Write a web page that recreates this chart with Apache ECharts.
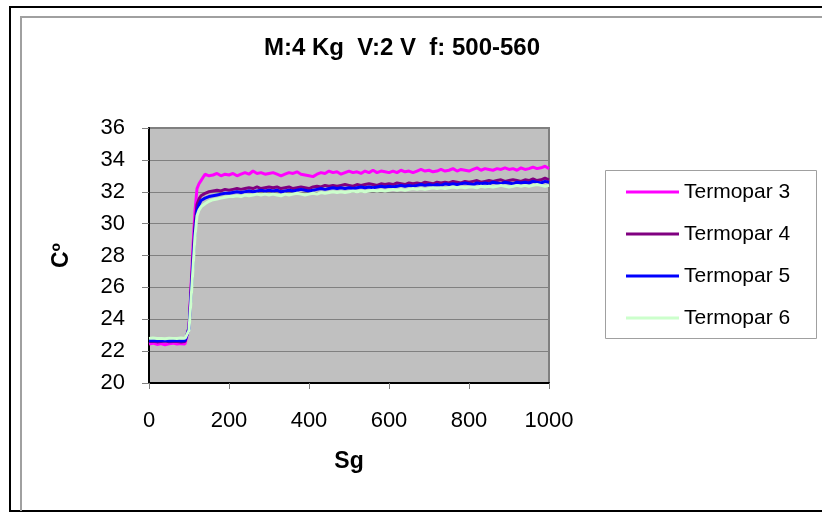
<!DOCTYPE html>
<html>
<head>
<meta charset="utf-8">
<script src="https://cdn.jsdelivr.net/npm/echarts@6/dist/echarts.min.js"></script>
<style>
  html, body { margin: 0; padding: 0; background: #ffffff; }
  #chart { width: 822px; height: 518px; }
</style>
</head>
<body>
<div id="chart"></div>
<script>
// Sample times in seconds (finer around the heating step)
const times = [
  0, 10, 20, 30, 40, 50, 60, 70, 80, 90,
  95, 100, 105, 110, 115, 120, 125, 130,
  140, 150, 160, 170, 180, 190, 200,
  210, 220, 230, 240, 250, 260, 270, 280, 290, 300,
  310, 320, 330, 340, 350, 360, 370, 380, 390, 400,
  410, 420, 430, 440, 450, 460, 470, 480, 490, 500,
  510, 520, 530, 540, 550, 560, 570, 580, 590, 600,
  610, 620, 630, 640, 650, 660, 670, 680, 690, 700,
  710, 720, 730, 740, 750, 760, 770, 780, 790, 800,
  810, 820, 830, 840, 850, 860, 870, 880, 890, 900,
  910, 920, 930, 940, 950, 960, 970, 980, 990, 1000
];

// Temperatures (°C) per thermocouple
const termopar3 = [
  22.45, 22.5, 22.42, 22.48, 22.4, 22.46, 22.5, 22.44, 22.47, 22.45,
  22.5, 23.5, 26.0, 28.6, 30.8, 32.2, 32.5, 32.7,
  33.1, 33.0, 33.05, 33.15, 33.0, 33.1, 33.05,
  33.15, 33.0, 33.1, 33.2, 33.1, 33.3, 33.15, 33.2, 33.1, 33.15,
  33.2, 33.1, 33.0, 33.1, 33.2, 33.15, 33.25, 33.1, 33.05, 33.0,
  32.95, 33.1, 33.2, 33.15, 33.3, 33.2, 33.25, 33.1, 33.2, 33.3,
  33.2, 33.25, 33.15, 33.3, 33.2, 33.35, 33.2, 33.3, 33.25, 33.2,
  33.3, 33.2, 33.35, 33.25, 33.3, 33.2, 33.3, 33.4, 33.3, 33.35,
  33.25, 33.3, 33.4, 33.3, 33.35, 33.45, 33.3, 33.4, 33.35, 33.3,
  33.4, 33.5, 33.35, 33.45, 33.4, 33.35, 33.45, 33.4, 33.5, 33.4,
  33.45, 33.35, 33.5, 33.4, 33.45, 33.55, 33.45, 33.5, 33.6, 33.45
];
const termopar4 = [
  22.6, 22.62, 22.58, 22.6, 22.63, 22.59, 22.61, 22.6, 22.58, 22.6,
  22.6, 23.5, 25.8, 28.0, 30.0, 31.2, 31.55, 31.75,
  31.9, 32.0, 32.05, 32.1, 32.05, 32.15, 32.1,
  32.15, 32.2, 32.15, 32.2, 32.25, 32.2, 32.3, 32.2, 32.25, 32.3,
  32.25, 32.3, 32.2, 32.25, 32.3, 32.2, 32.25, 32.3, 32.25, 32.2,
  32.3, 32.35, 32.3, 32.4, 32.35, 32.4, 32.35, 32.4, 32.45, 32.4,
  32.35, 32.45, 32.4, 32.45, 32.5, 32.45, 32.4, 32.5, 32.45, 32.5,
  32.45, 32.55, 32.5, 32.45, 32.55, 32.5, 32.55, 32.5, 32.6, 32.55,
  32.5, 32.6, 32.55, 32.6, 32.55, 32.65, 32.6, 32.55, 32.65, 32.6,
  32.65, 32.7, 32.6, 32.65, 32.7, 32.65, 32.7, 32.75, 32.65, 32.7,
  32.75, 32.7, 32.65, 32.75, 32.7, 32.8, 32.7, 32.75, 32.85, 32.75
];
const termopar5 = [
  22.65, 22.66, 22.64, 22.65, 22.67, 22.64, 22.65, 22.66, 22.64, 22.65,
  22.65, 23.4, 25.5, 27.6, 29.6, 30.8, 31.2, 31.45,
  31.6, 31.7, 31.75, 31.8, 31.85, 31.9, 31.9,
  31.95, 32.0, 31.95, 32.0, 32.05, 32.0, 32.05, 32.1, 32.05, 32.1,
  32.05, 32.1, 32.0, 32.05, 32.1, 32.05, 32.1, 32.15, 32.1, 32.05,
  32.1, 32.15, 32.2, 32.15, 32.2, 32.25, 32.2, 32.25, 32.2, 32.25,
  32.2, 32.25, 32.3, 32.25, 32.3, 32.25, 32.3, 32.35, 32.3, 32.35,
  32.3, 32.35, 32.4, 32.35, 32.4, 32.35, 32.4, 32.45, 32.4, 32.45,
  32.4, 32.45, 32.4, 32.5, 32.45, 32.5, 32.45, 32.5, 32.55, 32.5,
  32.45, 32.55, 32.5, 32.55, 32.5, 32.6, 32.55, 32.5, 32.6, 32.55,
  32.5, 32.6, 32.55, 32.6, 32.55, 32.65, 32.6, 32.55, 32.65, 32.6
];
const termopar6 = [
  22.8, 22.82, 22.79, 22.8, 22.78, 22.81, 22.8, 22.79, 22.82, 22.8,
  22.8, 23.3, 25.2, 27.2, 29.2, 30.5, 30.85, 31.05,
  31.25, 31.4, 31.5, 31.55, 31.6, 31.65, 31.7,
  31.7, 31.75, 31.7, 31.8, 31.75, 31.8, 31.85, 31.8, 31.85, 31.8,
  31.85, 31.8, 31.75, 31.85, 31.8, 31.85, 31.9, 31.85, 31.8, 31.85,
  31.9, 31.85, 31.95, 31.9, 31.95, 32.0, 31.95, 32.0, 31.95, 32.0,
  32.05, 32.0, 32.05, 32.0, 32.05, 32.1, 32.05, 32.1, 32.05, 32.1,
  32.15, 32.1, 32.15, 32.1, 32.15, 32.2, 32.15, 32.2, 32.15, 32.2,
  32.25, 32.2, 32.25, 32.2, 32.25, 32.3, 32.25, 32.3, 32.25, 32.3,
  32.3, 32.25, 32.35, 32.3, 32.35, 32.3, 32.35, 32.4, 32.35, 32.3,
  32.35, 32.4, 32.35, 32.4, 32.35, 32.4, 32.45, 32.4, 32.35, 32.4
];

const seriesNames = ['Termopar 3', 'Termopar 4', 'Termopar 5', 'Termopar 6'];
const seriesValues = [termopar3, termopar4, termopar5, termopar6];
const seriesColors = ['#ff00ff', '#800080', '#0000ff', '#ccffcc'];

const xTicks = { min: 0, max: 1000, interval: 200 };
const yTicks = { min: 20, max: 36, interval: 2 };

const FONT = '"Liberation Sans", Arial, sans-serif';

const chart = echarts.init(document.getElementById('chart'), null, { renderer: 'canvas' });

chart.setOption({
  animation: false,
  backgroundColor: '#ffffff',
  title: {
    text: 'M:4 Kg  V:2 V  f: 500-560',
    left: 397,
    top: 31,
    textAlign: 'center',
    textStyle: { fontFamily: FONT, fontWeight: 'bold', fontSize: 24, color: '#000000' }
  },
  grid: {
    left: 149, top: 128, width: 400, height: 255,
    show: true,
    backgroundColor: '#c0c0c0',
    borderColor: '#808080',
    borderWidth: 2
  },
  legend: {
    orient: 'vertical',
    left: 626,
    top: 181,
    padding: 0,
    itemGap: 20,
    itemWidth: 53,
    itemHeight: 3,
    icon: 'rect',
    data: seriesNames,
    textStyle: { fontFamily: FONT, fontSize: 21, color: '#000000', lineHeight: 22 }
  },
  xAxis: {
    type: 'value',
    min: xTicks.min, max: xTicks.max, interval: xTicks.interval,
    name: 'Sg',
    nameLocation: 'middle',
    nameGap: 67,
    nameTextStyle: { fontFamily: FONT, fontWeight: 'bold', fontSize: 23, color: '#000000' },
    axisLine: { show: true, onZero: false, lineStyle: { color: '#000000', width: 2 } },
    axisTick: { show: true, length: 6, lineStyle: { color: '#808080' } },
    axisLabel: { margin: 27, fontFamily: FONT, fontSize: 22, color: '#000000',
      formatter: (v) => String(v) },
    splitLine: { show: false }
  },
  yAxis: {
    type: 'value',
    min: yTicks.min, max: yTicks.max, interval: yTicks.interval,
    name: 'Cº',
    nameLocation: 'middle',
    nameGap: 76,
    nameRotate: 90,
    nameTextStyle: { fontFamily: FONT, fontWeight: 'bold', fontSize: 23, color: '#000000' },
    axisLine: { show: true, onZero: false, lineStyle: { color: '#000000', width: 2 } },
    axisTick: { show: true, length: 7, lineStyle: { color: '#808080' } },
    axisLabel: { margin: 24, fontFamily: FONT, fontSize: 22, color: '#000000',
      formatter: (v) => String(v) },
    splitLine: { show: true, lineStyle: { color: '#808080', width: 1 } }
  },
  series: seriesNames.map((name, i) => ({
    name: name,
    type: 'line',
    showSymbol: false,
    symbol: 'none',
    z: 2 + i,
    color: seriesColors[i],
    lineStyle: { color: seriesColors[i], width: 3 },
    data: times.map((t, k) => [t, seriesValues[i][k]])
  })),
  graphic: [
    // outer frame
    { type: 'rect', silent: true, z: 0,
      shape: { x: 10, y: 7, width: 830, height: 504 },
      style: { fill: 'none', stroke: '#000000', lineWidth: 2 } },
    // chart area edge
    { type: 'polyline', silent: true, z: 0,
      shape: { points: [[21, 511], [21, 17], [830, 17]] },
      style: { fill: 'none', stroke: '#a0a0a0', lineWidth: 2 } },
    // legend box
    { type: 'rect', silent: true, z: 0,
      shape: { x: 605.5, y: 170.5, width: 211, height: 168 },
      style: { fill: '#ffffff', stroke: '#a0a0a0', lineWidth: 1 } }
  ]
});
</script>
</body>
</html>
